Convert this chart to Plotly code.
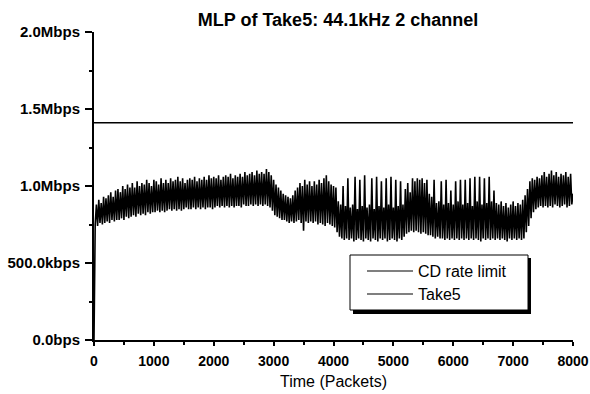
import plotly.graph_objects as go

# ---- data ----
step = 20  # packets between samples
take5_mbps = [
    0.00,
    0.75, 0.88, 0.74, 0.91, 0.76, 0.89, 0.75, 0.93, 0.76, 0.92,
    0.77, 0.94, 0.76, 0.96, 0.78, 0.93, 0.77, 0.97, 0.78, 0.98,
    0.78, 0.96, 0.79, 1.00, 0.78, 0.98, 0.80, 1.01, 0.79, 0.99,
    0.80, 1.02, 0.81, 0.99, 0.80, 1.03, 0.82, 1.00, 0.81, 1.02,
    0.82, 1.01, 0.81, 1.04, 0.83, 1.02, 0.82, 1.00, 0.83, 1.04,
    0.83, 1.03, 0.84, 1.01, 0.83, 1.05, 0.84, 1.02, 0.83, 1.04,
    0.84, 1.02, 0.85, 1.05, 0.84, 1.03, 0.85, 1.04, 0.84, 1.06,
    0.85, 1.03, 0.84, 1.05, 0.85, 1.02, 0.86, 1.04, 0.85, 1.05,
    0.85, 1.04, 0.86, 1.06, 0.85, 1.03, 0.86, 1.05, 0.85, 1.04,
    0.86, 1.06, 0.85, 1.04, 0.86, 1.07, 0.86, 1.05, 0.85, 1.06,
    0.86, 1.05, 0.87, 1.07, 0.86, 1.04, 0.87, 1.06, 0.86, 1.07,
    0.87, 1.06, 0.86, 1.08, 0.87, 1.05, 0.86, 1.07, 0.87, 1.06,
    0.87, 1.08, 0.86, 1.06, 0.88, 1.09, 0.87, 1.07, 0.87, 1.08,
    0.88, 1.09, 0.87, 1.07, 0.88, 1.10, 0.87, 1.08, 0.88, 1.09,
    0.87, 1.08, 0.88, 1.11, 0.87, 1.09, 0.86, 1.07, 0.84, 1.04,
    0.81, 1.01, 0.80, 0.99, 0.79, 0.97, 0.78, 0.95, 0.78, 0.94,
    0.77, 0.93, 0.76, 0.92, 0.77, 0.94, 0.76, 0.97, 0.77, 0.99,
    0.78, 1.02, 0.76, 1.00, 0.71, 1.04, 0.77, 1.01, 0.76, 1.03,
    0.77, 1.00, 0.76, 1.03, 0.77, 1.01, 0.75, 1.04, 0.76, 1.02,
    0.75, 1.05, 0.74, 1.07, 0.76, 1.03, 0.75, 1.01, 0.74, 1.00,
    0.73, 0.99, 0.70, 0.90, 0.67, 0.88, 0.66, 1.00, 0.65, 0.87,
    0.66, 1.05, 0.65, 0.86, 0.66, 0.88, 0.64, 1.06, 0.65, 0.85,
    0.66, 1.04, 0.65, 0.87, 0.64, 1.07, 0.66, 0.86, 0.65, 0.88,
    0.64, 1.05, 0.66, 0.85, 0.65, 1.06, 0.64, 0.87, 0.66, 1.03,
    0.65, 0.86, 0.66, 1.05, 0.64, 0.88, 0.65, 1.06, 0.66, 0.86,
    0.65, 1.04, 0.64, 0.87, 0.66, 1.03, 0.65, 0.88, 0.67, 0.98,
    0.69, 1.02, 0.70, 0.96, 0.71, 1.05, 0.70, 1.03, 0.71, 1.05,
    0.70, 1.04, 0.69, 1.05, 0.70, 1.02, 0.69, 1.04, 0.68, 0.95,
    0.68, 0.93, 0.67, 1.04, 0.66, 0.89, 0.67, 0.90, 0.66, 1.03,
    0.66, 0.88, 0.65, 1.04, 0.66, 0.89, 0.65, 0.97, 0.66, 0.88,
    0.65, 1.03, 0.66, 0.90, 0.65, 1.04, 0.66, 0.88, 0.65, 1.04,
    0.66, 0.89, 0.65, 1.05, 0.66, 0.87, 0.65, 1.06, 0.66, 0.90,
    0.65, 1.06, 0.64, 0.88, 0.66, 1.05, 0.65, 0.89, 0.66, 1.06,
    0.65, 0.90, 0.66, 0.97, 0.65, 0.89, 0.66, 0.88, 0.65, 0.90,
    0.66, 0.87, 0.65, 0.89, 0.64, 0.86, 0.66, 0.88, 0.65, 0.90,
    0.66, 0.87, 0.65, 0.89, 0.66, 0.88, 0.65, 0.91, 0.66, 0.94,
    0.70, 0.98, 0.74, 1.03, 0.79, 1.05, 0.83, 1.04, 0.85, 1.06,
    0.86, 1.05, 0.87, 1.07, 0.86, 1.09, 0.87, 1.06, 0.86, 1.08,
    0.87, 1.10, 0.86, 1.07, 0.88, 1.09, 0.87, 1.06, 0.86, 1.08,
    0.87, 1.07, 0.88, 1.09, 0.86, 1.06, 0.87, 1.08, 0.88, 0.95,
]
packets = [i * step for i in range(len(take5_mbps))]

cd_rate_mbps = 1.4112
cd_packets = [0, 8000]

y_tickvals = [0, 0.5, 1.0, 1.5, 2.0]
y_ticktext = ["0.0bps", "500.0kbps", "1.0Mbps", "1.5Mbps", "2.0Mbps"]
x_tickvals = [0, 1000, 2000, 3000, 4000, 5000, 6000, 7000, 8000]

legend_labels = ["CD rate limit", "Take5"]

FONT = "Liberation Sans, Arial, sans-serif"

fig = go.Figure()
fig.add_trace(go.Scatter(x=cd_packets, y=[cd_rate_mbps] * len(cd_packets), mode="lines",
                         name=legend_labels[0], line=dict(color="black", width=1.6),
                         showlegend=False))
fig.add_trace(go.Scatter(x=packets, y=take5_mbps, mode="lines", name=legend_labels[1],
                         line=dict(color="black", width=1.6), showlegend=False))

W, H = 590, 394
L, R, T, B = 94, 17, 32, 54
pw, ph = W - L - R, H - T - B

def px_x(px):
    return (px - L) / pw

def px_y(py):
    return (H - B - py) / ph

shapes = []
# legend shadow + box
shapes.append(dict(type="rect", xref="paper", yref="paper",
                   x0=px_x(353), x1=px_x(531), y0=px_y(314), y1=px_y(258),
                   fillcolor="black", line=dict(width=0), layer="above"))
shapes.append(dict(type="rect", xref="paper", yref="paper",
                   x0=px_x(350), x1=px_x(528), y0=px_y(310), y1=px_y(255),
                   fillcolor="white", line=dict(color="black", width=1), layer="above"))
annotations = []
for i, lab in enumerate(legend_labels):
    yy = 271 + i * 23
    shapes.append(dict(type="line", xref="paper", yref="paper",
                       x0=px_x(367), x1=px_x(413), y0=px_y(yy), y1=px_y(yy),
                       line=dict(color="black", width=1.2), layer="above"))
    annotations.append(dict(text=lab, xref="paper", yref="paper", x=px_x(416), y=px_y(yy),
                            xanchor="left", yanchor="middle", showarrow=False,
                            font=dict(family=FONT, size=16, color="black")))

fig.update_layout(
    width=W, height=H,
    margin=dict(l=L, r=R, t=T, b=B, autoexpand=False),
    paper_bgcolor="white", plot_bgcolor="white",
    title=dict(text="<b>MLP of Take5: 44.1kHz 2 channel</b>", x=338 / W, xanchor="center",
               y=1 - 20 / H, yanchor="middle", yref="container",
               font=dict(family=FONT, size=18, color="black")),
    xaxis=dict(range=[0, 8000], tickvals=x_tickvals, showgrid=False, zeroline=False,
               showline=True, linecolor="black", linewidth=2, ticks="outside",
               ticklen=4, tickwidth=2, tickcolor="black",
               minor=dict(tickvals=[500, 1500, 2500, 3500, 4500, 5500, 6500, 7500],
                          ticks="outside", ticklen=3, tickwidth=1.5, tickcolor="black"),
               tickfont=dict(family=FONT, size=14, color="black", weight="bold"),
               ticklabelstandoff=3,
               title=dict(text="Time (Packets)", standoff=8,
                          font=dict(family=FONT, size=16, color="black"))),
    yaxis=dict(range=[0, 2.0], tickvals=y_tickvals, ticktext=y_ticktext, showgrid=False,
               zeroline=False, showline=True, linecolor="black", linewidth=2,
               ticks="outside", ticklen=7, tickwidth=2, tickcolor="black",
               minor=dict(tickvals=[0.25, 0.75, 1.25, 1.75], ticks="outside", ticklen=3,
                          tickwidth=1.5, tickcolor="black"),
               tickfont=dict(family=FONT, size=15, color="black", weight="bold"),
               ticklabelstandoff=2),
    shapes=shapes, annotations=annotations,
)

fig.write_html("out.html")
